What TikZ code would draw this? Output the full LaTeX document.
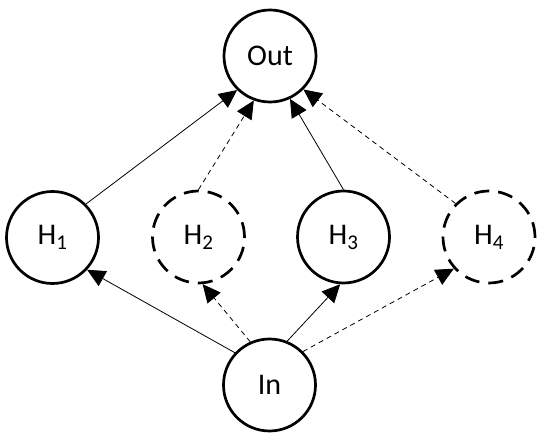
\documentclass[tikz,border=0pt]{standalone}
\usepackage{fontspec}
\setmainfont{Carlito}
\usetikzlibrary{arrows.meta}
\begin{document}
\begin{tikzpicture}[x=1pt,y=-1pt,
  neuron/.style={circle,draw,line width=2.7pt,minimum size=92pt,inner sep=0pt,
    font=\fontsize{30}{36}\selectfont},
  dneuron/.style={neuron,dash pattern=on 15pt off 9pt},
  conn/.style={line width=0.8pt,-{Triangle[length=18pt,width=17pt]}},
  dconn/.style={conn,dash pattern=on 5pt off 4pt}]
\useasboundingbox (0,0) rectangle (550,446);
\node[neuron] (out) at (270,56) {Out};
\node[neuron] (h1) at (52.5,237.5) {H\textsubscript{1}};
\node[dneuron] (h2) at (198.5,237) {H\textsubscript{2}};
\node[neuron] (h3) at (343.5,237) {H\textsubscript{3}};
\node[dneuron] (h4) at (489,237) {H\textsubscript{4}};
\node[neuron] (in) at (269.5,385) {In};
\draw[conn] (h1.45) -- (out.226);
\draw[dconn] (h2.90) -- (out.250);
\draw[conn] (h3.90) -- (out.295);
\draw[dconn] (h4.135) -- (out.315);
\draw[conn] (in.137) -- (h1.317);
\draw[dconn] (in.114) -- (h2.275);
\draw[conn] (in.68) -- (h3.266);
\draw[dconn] (in.45) -- (h4.222);
\end{tikzpicture}
\end{document}
